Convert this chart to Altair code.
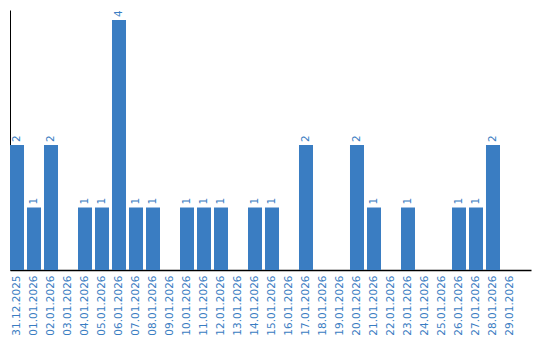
import altair as alt
import pandas as pd

dates = ["31.12.2025", "01.01.2026", "02.01.2026", "03.01.2026", "04.01.2026",
         "05.01.2026", "06.01.2026", "07.01.2026", "08.01.2026", "09.01.2026",
         "10.01.2026", "11.01.2026", "12.01.2026", "13.01.2026", "14.01.2026",
         "15.01.2026", "16.01.2026", "17.01.2026", "18.01.2026", "19.01.2026",
         "20.01.2026", "21.01.2026", "22.01.2026", "23.01.2026", "24.01.2026",
         "25.01.2026", "26.01.2026", "27.01.2026", "28.01.2026", "29.01.2026"]
counts = [2, 1, 2, 0, 1, 1, 4, 1, 1, 0,
          1, 1, 1, 0, 1, 1, 0, 2, 0, 0,
          2, 1, 0, 1, 0, 0, 1, 1, 2, 0]

df = pd.DataFrame({"date": dates, "count": counts})
df["label"] = df["count"].apply(lambda v: str(v) if v > 0 else "")

BLUE = "#3a7dc2"
FONT = "DejaVu Sans"

x = alt.X("date:N", sort=dates, title=None,
          scale=alt.Scale(paddingInner=0.176, paddingOuter=0.4118, align=0),
          axis=alt.Axis(labelAngle=-90, labelColor=BLUE, labelFont=FONT,
                        labelFontSize=10.5, ticks=False, labelPadding=5,
                        domainColor="black", domainWidth=1.5, grid=False))
y = alt.Y("count:Q", title=None,
          scale=alt.Scale(domain=[0, 4.16], nice=False, zero=True),
          axis=alt.Axis(labels=False, ticks=False, grid=False,
                        domainColor="black", domainWidth=1))

bars = alt.Chart(df).mark_bar(color=BLUE).encode(x=x, y=y)
text = alt.Chart(df).mark_text(angle=270, align="left", baseline="middle",
                               dx=3, color=BLUE, font=FONT, fontSize=10.5).encode(
    x=alt.X("date:N", sort=dates), y="count:Q", text="label:N")

chart = (bars + text).properties(
    width=521, height=260,
    padding={"left": 10, "top": 10, "right": 9, "bottom": 70},
    autosize=alt.AutoSizeParams(type="none"),
    background="white",
).configure_view(stroke=None)

chart.save("out.html", embed_options={"renderer": "svg", "actions": False})
